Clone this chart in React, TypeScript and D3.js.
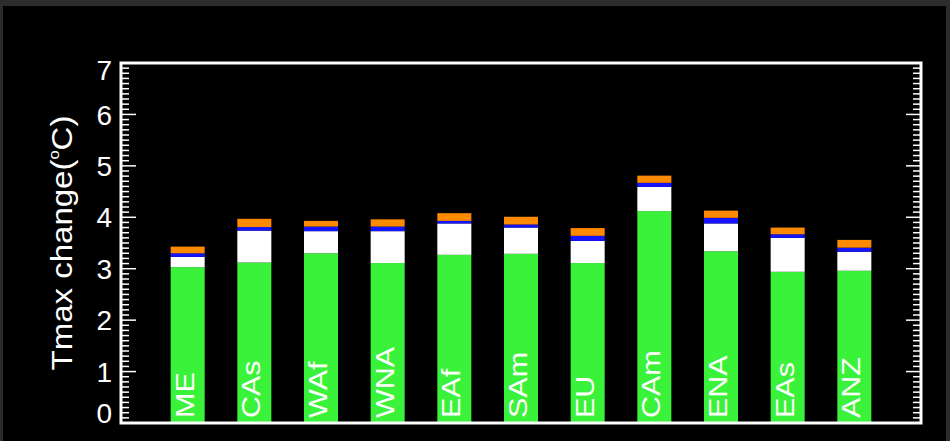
import React from "react";
import * as d3 from "d3";

const categories = ["ME", "CAs", "WAf", "WNA", "EAf", "SAm", "EU", "CAm", "ENA", "EAs", "ANZ"];
const greenTop = [3.03, 3.12, 3.30, 3.11, 3.27, 3.29, 3.11, 4.12, 3.34, 2.94, 2.96];
const whiteTop = [3.23, 3.74, 3.73, 3.73, 3.88, 3.80, 3.54, 4.59, 3.88, 3.60, 3.33];
const blueTop = [3.30, 3.81, 3.82, 3.82, 3.93, 3.86, 3.64, 4.67, 3.99, 3.67, 3.41];
const orangeTop = [3.43, 3.97, 3.93, 3.96, 4.08, 4.01, 3.79, 4.81, 4.13, 3.80, 3.56];
const yTicks = [0, 1, 2, 3, 4, 5, 6, 7];
const yTitle = "Tmax change(";

const W = 950;
const H = 441;
const L = 121, R = 921, T = 63, B = 423;

export default function App() {
  const x = d3.scalePoint<string>().domain(categories).range([L, R]).padding(1);
  const y = d3.scaleLinear().domain([0, 7]).range([B, T]);
  const bw = x.step() * 0.51;
  const minor = d3.range(0, 70.001, 1).map((v) => v / 10);
  const font = "'Liberation Sans', Arial, sans-serif";

  const segs = categories.map((c, i) => [
    { y0: 0, y1: greenTop[i], color: "#3af23a" },
    { y0: greenTop[i], y1: whiteTop[i], color: "#ffffff" },
    { y0: whiteTop[i], y1: blueTop[i], color: "#1414ff" },
    { y0: blueTop[i], y1: orangeTop[i], color: "#ff8a00" },
  ]);

  return (
    <svg width={W} height={H} style={{ position: "absolute", left: 0, top: 0, display: "block" }}>
      <rect x={0} y={0} width={W} height={H} fill="#2c2c2c" />
      <rect x={3} y={6} width={943} height={H - 6} fill="#000000" />

      {categories.map((c, i) => (
        <g key={c}>
          {segs[i].map((s, j) => (
            <rect
              key={j}
              x={(x(c) as number) - bw / 2}
              y={y(s.y1)}
              width={bw}
              height={y(s.y0) - y(s.y1)}
              fill={s.color}
            />
          ))}
          <text
            transform={`translate(${(x(c) as number) + 6},${B - 5}) rotate(-90) scale(1.22,1)`}
            fill="#ffffff"
            fontFamily={font}
            fontSize={25}
            textAnchor="start"
          >
            {c}
          </text>
        </g>
      ))}

      {/* minor ticks */}
      {minor.map((v, i) => {
        const isMajor = Math.abs(v - Math.round(v)) < 1e-6;
        const len = isMajor ? 15 : 8;
        return (
          <g key={i} stroke="#ffffff" strokeWidth={1.5}>
            <line x1={L} x2={L + len} y1={y(v)} y2={y(v)} />
            <line x1={R} x2={R - len} y1={y(v)} y2={y(v)} />
          </g>
        );
      })}

      {/* axes frame */}
      <rect x={L} y={T} width={R - L} height={B - T} fill="none" stroke="#ffffff" strokeWidth={3} />

      {yTicks.map((v) => (
        <text
          key={v}
          x={112}
          y={Math.min(Math.max(y(v), 70), 413)}
          dy="0.36em"
          textAnchor="end"
          fill="#ffffff"
          fontFamily={font}
          fontSize={28}
        >
          {v}
        </text>
      ))}

      <text
        transform={`translate(72,243) rotate(-90) scale(1.1,1)`}
        textAnchor="middle"
        fill="#ffffff"
        fontFamily={font}
        fontSize={30}
      >
        {yTitle}
        <tspan fontSize={15} dy={-13}>o</tspan>
        <tspan dy={13}>C)</tspan>
      </text>
    </svg>
  );
}
